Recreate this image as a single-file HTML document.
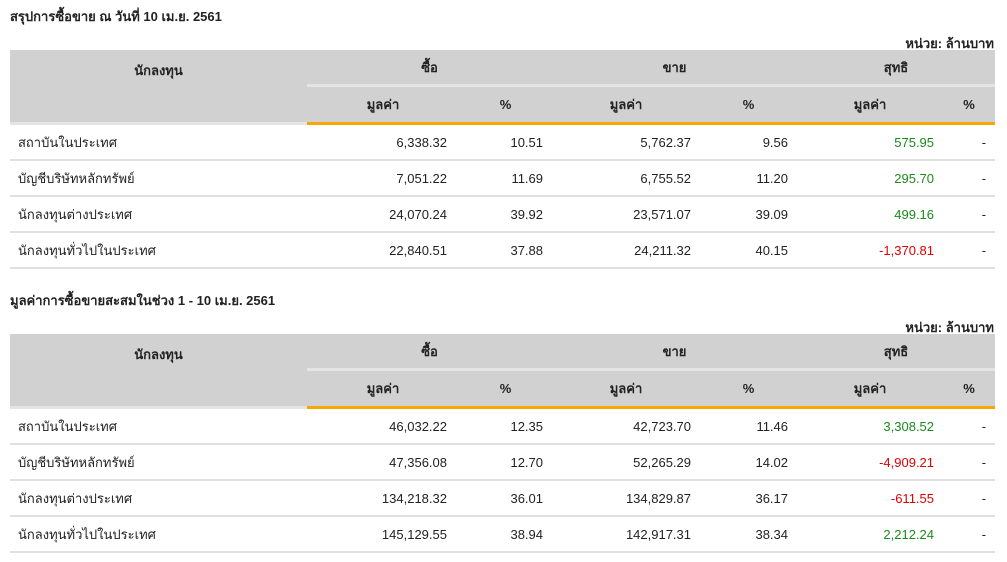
<!DOCTYPE html>
<html><head><meta charset="utf-8"><style>
body{margin:0;background:#fff;font-family:"Liberation Sans","DejaVu Sans",sans-serif;font-size:13px;color:#222;}
.t{position:absolute;left:10px;font-weight:bold;font-size:13px;}
.u{position:absolute;right:13px;font-weight:bold;font-size:13px;}
table{position:absolute;left:10px;width:985px;border-collapse:collapse;table-layout:fixed;}
th{background:#d1d1d1;font-weight:bold;font-size:13px;padding:0;}
th.g{height:34px;border-bottom:3px solid #e4e4e4;}
th.s{height:34px;border-bottom:3px solid #f5a800;}
th.n{border-bottom:3px solid #e4e4e4;vertical-align:top;padding-top:10px;}
td{height:34px;border-bottom:2px solid #e0e0e0;text-align:right;padding:0 9px 0 0;}
td.b{padding-right:12px;}
td.l{text-align:left;padding-left:8px;}
.gr{color:#1a8a1a}.rd{color:#e00000}
</style></head><body>
<div class="t" style="top:6px">สรุปการซื้อขาย ณ วันที่ 10 เม.ย. 2561</div>
<div class="u" style="top:33px">หน่วย: ล้านบาท</div>
<table style="top:50px">
<colgroup><col style="width:297px"><col style="width:152px"><col style="width:93px"><col style="width:148px"><col style="width:97px"><col style="width:146px"><col style="width:52px"></colgroup>
<tr><th rowspan="2" class="n" style="height:62px">นักลงทุน</th><th colspan="2" class="g">ซื้อ</th><th colspan="2" class="g">ขาย</th><th colspan="2" class="g">สุทธิ</th></tr>
<tr><th class="s">มูลค่า</th><th class="s">%</th><th class="s">มูลค่า</th><th class="s">%</th><th class="s">มูลค่า</th><th class="s">%</th></tr>
<tr><td class="l">สถาบันในประเทศ</td><td class="b">6,338.32</td><td>10.51</td><td>5,762.37</td><td>9.56</td><td class="gr">575.95</td><td>-</td></tr>
<tr><td class="l">บัญชีบริษัทหลักทรัพย์</td><td class="b">7,051.22</td><td>11.69</td><td>6,755.52</td><td>11.20</td><td class="gr">295.70</td><td>-</td></tr>
<tr><td class="l">นักลงทุนต่างประเทศ</td><td class="b">24,070.24</td><td>39.92</td><td>23,571.07</td><td>39.09</td><td class="gr">499.16</td><td>-</td></tr>
<tr><td class="l">นักลงทุนทั่วไปในประเทศ</td><td class="b">22,840.51</td><td>37.88</td><td>24,211.32</td><td>40.15</td><td class="rd">-1,370.81</td><td>-</td></tr>
</table>
<div class="t" style="top:290px">มูลค่าการซื้อขายสะสมในช่วง 1 - 10 เม.ย. 2561</div>
<div class="u" style="top:317px">หน่วย: ล้านบาท</div>
<table style="top:334px">
<colgroup><col style="width:297px"><col style="width:152px"><col style="width:93px"><col style="width:148px"><col style="width:97px"><col style="width:146px"><col style="width:52px"></colgroup>
<tr><th rowspan="2" class="n" style="height:62px">นักลงทุน</th><th colspan="2" class="g">ซื้อ</th><th colspan="2" class="g">ขาย</th><th colspan="2" class="g">สุทธิ</th></tr>
<tr><th class="s">มูลค่า</th><th class="s">%</th><th class="s">มูลค่า</th><th class="s">%</th><th class="s">มูลค่า</th><th class="s">%</th></tr>
<tr><td class="l">สถาบันในประเทศ</td><td class="b">46,032.22</td><td>12.35</td><td>42,723.70</td><td>11.46</td><td class="gr">3,308.52</td><td>-</td></tr>
<tr><td class="l">บัญชีบริษัทหลักทรัพย์</td><td class="b">47,356.08</td><td>12.70</td><td>52,265.29</td><td>14.02</td><td class="rd">-4,909.21</td><td>-</td></tr>
<tr><td class="l">นักลงทุนต่างประเทศ</td><td class="b">134,218.32</td><td>36.01</td><td>134,829.87</td><td>36.17</td><td class="rd">-611.55</td><td>-</td></tr>
<tr><td class="l">นักลงทุนทั่วไปในประเทศ</td><td class="b">145,129.55</td><td>38.94</td><td>142,917.31</td><td>38.34</td><td class="gr">2,212.24</td><td>-</td></tr>
</table>
</body></html>
